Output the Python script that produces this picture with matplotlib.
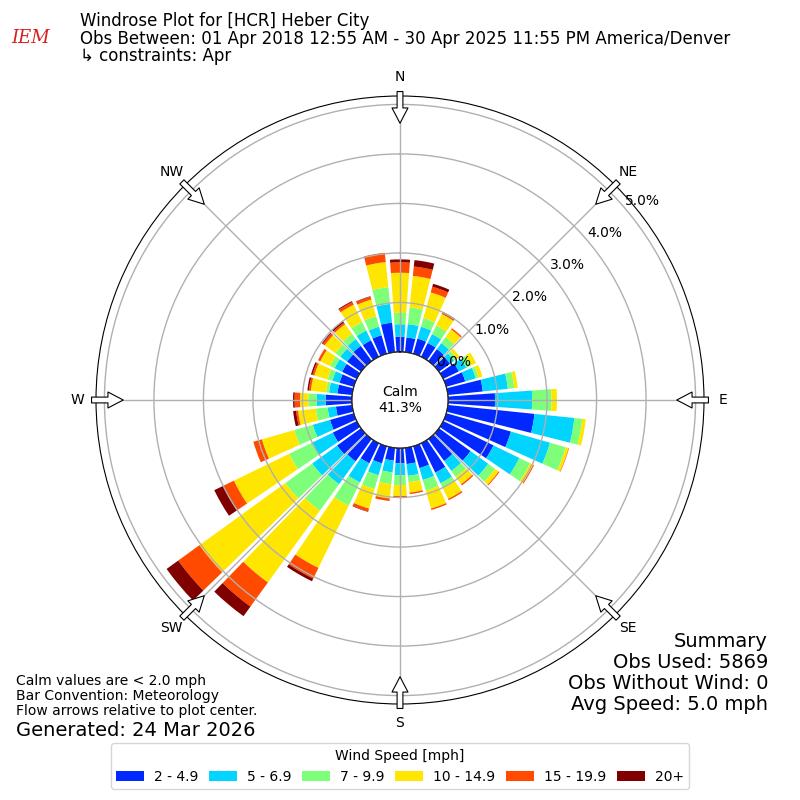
import numpy as np
import matplotlib
matplotlib.use("Agg")
import matplotlib.pyplot as plt
from matplotlib.patches import Patch

# direction bins (degrees, meteorological convention)
directions = list(range(0, 360, 10))

# cumulative frequency [%] for each speed bin
cum_2 = [0.31, 0.30, 0.32, 0.31, 0.30, 0.28, 0.35, 0.40, 0.71, 0.95, 1.76, 1.36,
         1.13, 0.79, 0.55, 0.66, 0.46, 0.33, 0.31, 0.26, 0.36, 0.45, 0.56, 0.60,
         0.54, 0.50, 0.33, 0.53, 0.30, 0.30, 0.33, 0.35, 0.38, 0.37, 0.39, 0.60]
cum_5 = [0.56, 0.57, 0.57, 0.51, 0.45, 0.38, 0.52, 0.62, 1.22, 1.70, 2.57, 2.18,
         1.71, 1.23, 0.80, 0.90, 0.71, 0.57, 0.55, 0.50, 0.61, 0.88, 1.13, 1.22,
         1.00, 0.86, 0.50, 0.71, 0.47, 0.45, 0.50, 0.52, 0.55, 0.59, 0.57, 0.98]
cum_7 = [0.79, 0.91, 0.75, 0.70, 0.60, 0.45, 0.62, 0.68, 1.35, 2.09, 2.73, 2.51,
         1.95, 1.40, 0.95, 1.01, 0.93, 0.70, 0.75, 0.74, 0.90, 1.40, 1.79, 1.89,
         1.52, 1.25, 0.74, 0.88, 0.53, 0.55, 0.60, 0.64, 0.68, 0.78, 0.79, 1.32]
cum_10 = [1.60, 1.55, 1.29, 0.96, 0.79, 0.52, 0.74, 0.76, 1.42, 2.20, 2.80, 2.57,
          2.02, 1.49, 1.13, 1.25, 1.31, 0.91, 0.97, 1.03, 1.31, 2.80, 3.58, 4.03,
          2.76, 1.93, 1.10, 1.05, 0.84, 0.83, 0.82, 0.91, 0.92, 1.17, 1.14, 1.83]
cum_15 = [1.81, 1.74, 1.41, 1.00, 0.82, 0.52, 0.74, 0.76, 1.42, 2.20, 2.80, 2.58,
          2.04, 1.51, 1.16, 1.28, 1.34, 0.94, 1.00, 1.08, 1.37, 3.04, 4.18, 4.56,
          2.99, 2.11, 1.14, 1.16, 0.88, 0.87, 0.87, 0.96, 0.96, 1.23, 1.20, 2.02]
cum_20 = [1.87, 1.87, 1.47, 1.01, 0.82, 0.52, 0.74, 0.76, 1.42, 2.20, 2.80, 2.58,
          2.04, 1.51, 1.16, 1.28, 1.34, 0.94, 1.00, 1.08, 1.38, 3.10, 4.42, 4.85,
          3.20, 2.11, 1.20, 1.19, 0.91, 0.90, 0.87, 0.98, 1.00, 1.25, 1.21, 2.02]

speed_labels = ["2 - 4.9", "5 - 6.9", "7 - 9.9", "10 - 14.9", "15 - 19.9", "20+"]
colors = ["#0028ff", "#00d4ff", "#7dff7a", "#ffe600", "#ff4a00", "#800000"]

compass = ["N", "NE", "E", "SE", "S", "SW", "W", "NW"]
rticks = [0, 1, 2, 3, 4, 5]

calm_pct = 41.3
obs_used = 5869
obs_nowind = 0
avg_speed = 5.0

fig = plt.figure(figsize=(8, 8), dpi=100)
ax = fig.add_axes([0.12, 0.12, 0.76, 0.76], projection="polar")
ax.set_theta_zero_location("N")
ax.set_theta_direction(-1)

theta = np.deg2rad(directions)
width = np.deg2rad(10) * 0.82
layers = [cum_2, cum_5, cum_7, cum_10, cum_15, cum_20]
prev = np.zeros(len(directions))
for vals, col in zip(layers, colors):
    vals = np.array(vals)
    ax.bar(theta, vals - prev, width=width, bottom=prev, color=col,
           edgecolor="none", zorder=2)
    prev = vals

ax.set_rorigin(-0.97)
ax.set_ylim(0, 5.17)
ax.set_yticks(rticks)
ax.set_yticklabels([f"{v:.1f}%" for v in rticks], fontsize=10)
ax.set_rlabel_position(49.5)
ax.set_xticks(np.deg2rad(np.arange(0, 360, 45)))
ax.set_xticklabels(compass, fontsize=10)
ax.tick_params(axis="x", pad=3)
ax.set_axisbelow(False)
ax.grid(True, color="#b0b0b0", lw=1, zorder=3)

# calm circle
circ = np.linspace(0, 2 * np.pi, 300)
ax.plot(circ, np.zeros_like(circ), color="k", lw=1, zorder=4)
ax.text(0, -0.97, f"Calm\n{calm_pct:.1f}%", ha="center", va="center",
        fontsize=10, zorder=5)

# flow arrows at the compass points
for ang in np.arange(0, 360, 45):
    t = np.deg2rad(ang)
    ax.annotate("", xy=(t, 4.62), xytext=(t, 5.26), annotation_clip=False,
                arrowprops=dict(arrowstyle="simple,head_length=1.1,head_width=1.15,tail_width=0.42",
                                fc="white", ec="black", lw=0.8,
                                shrinkA=0, shrinkB=0), zorder=6)

fig.text(0.1, 0.985,
         "Windrose Plot for [HCR] Heber City\n"
         "Obs Between: 01 Apr 2018 12:55 AM - 30 Apr 2025 11:55 PM America/Denver\n"
         "\u21b3 constraints: Apr",
         fontsize=12, va="top", ha="left", linespacing=0.98)
fig.text(0.038, 0.952, "IEM", color="#d62020", fontsize=13, style="italic",
         family="DejaVu Serif", ha="center", va="center")

fig.text(0.02, 1 - 696 / 800,
         "Calm values are < 2.0 mph\nBar Convention: Meteorology\n"
         "Flow arrows relative to plot center.",
         fontsize=10, va="center", ha="left", linespacing=1.05)
fig.text(0.02, 1 - 730 / 800, "Generated: 24 Mar 2026", fontsize=14,
         va="center", ha="left")
fig.text(0.96, 1 - 673 / 800,
         f"Summary\nObs Used: {obs_used}\nObs Without Wind: {obs_nowind}\n"
         f"Avg Speed: {avg_speed:.1f} mph",
         fontsize=14, va="center", ha="right", multialignment="right",
         linespacing=1.15)

handles = [Patch(facecolor=c, edgecolor="none") for c in colors]
fig.legend(handles, speed_labels, loc="lower center", bbox_to_anchor=(0.5, 0.01),
           ncol=6, title="Wind Speed [mph]", fontsize=10, title_fontsize=10,
           columnspacing=0.8, handletextpad=0.7, borderaxespad=0.2)

fig.savefig("out.png", dpi=100)
